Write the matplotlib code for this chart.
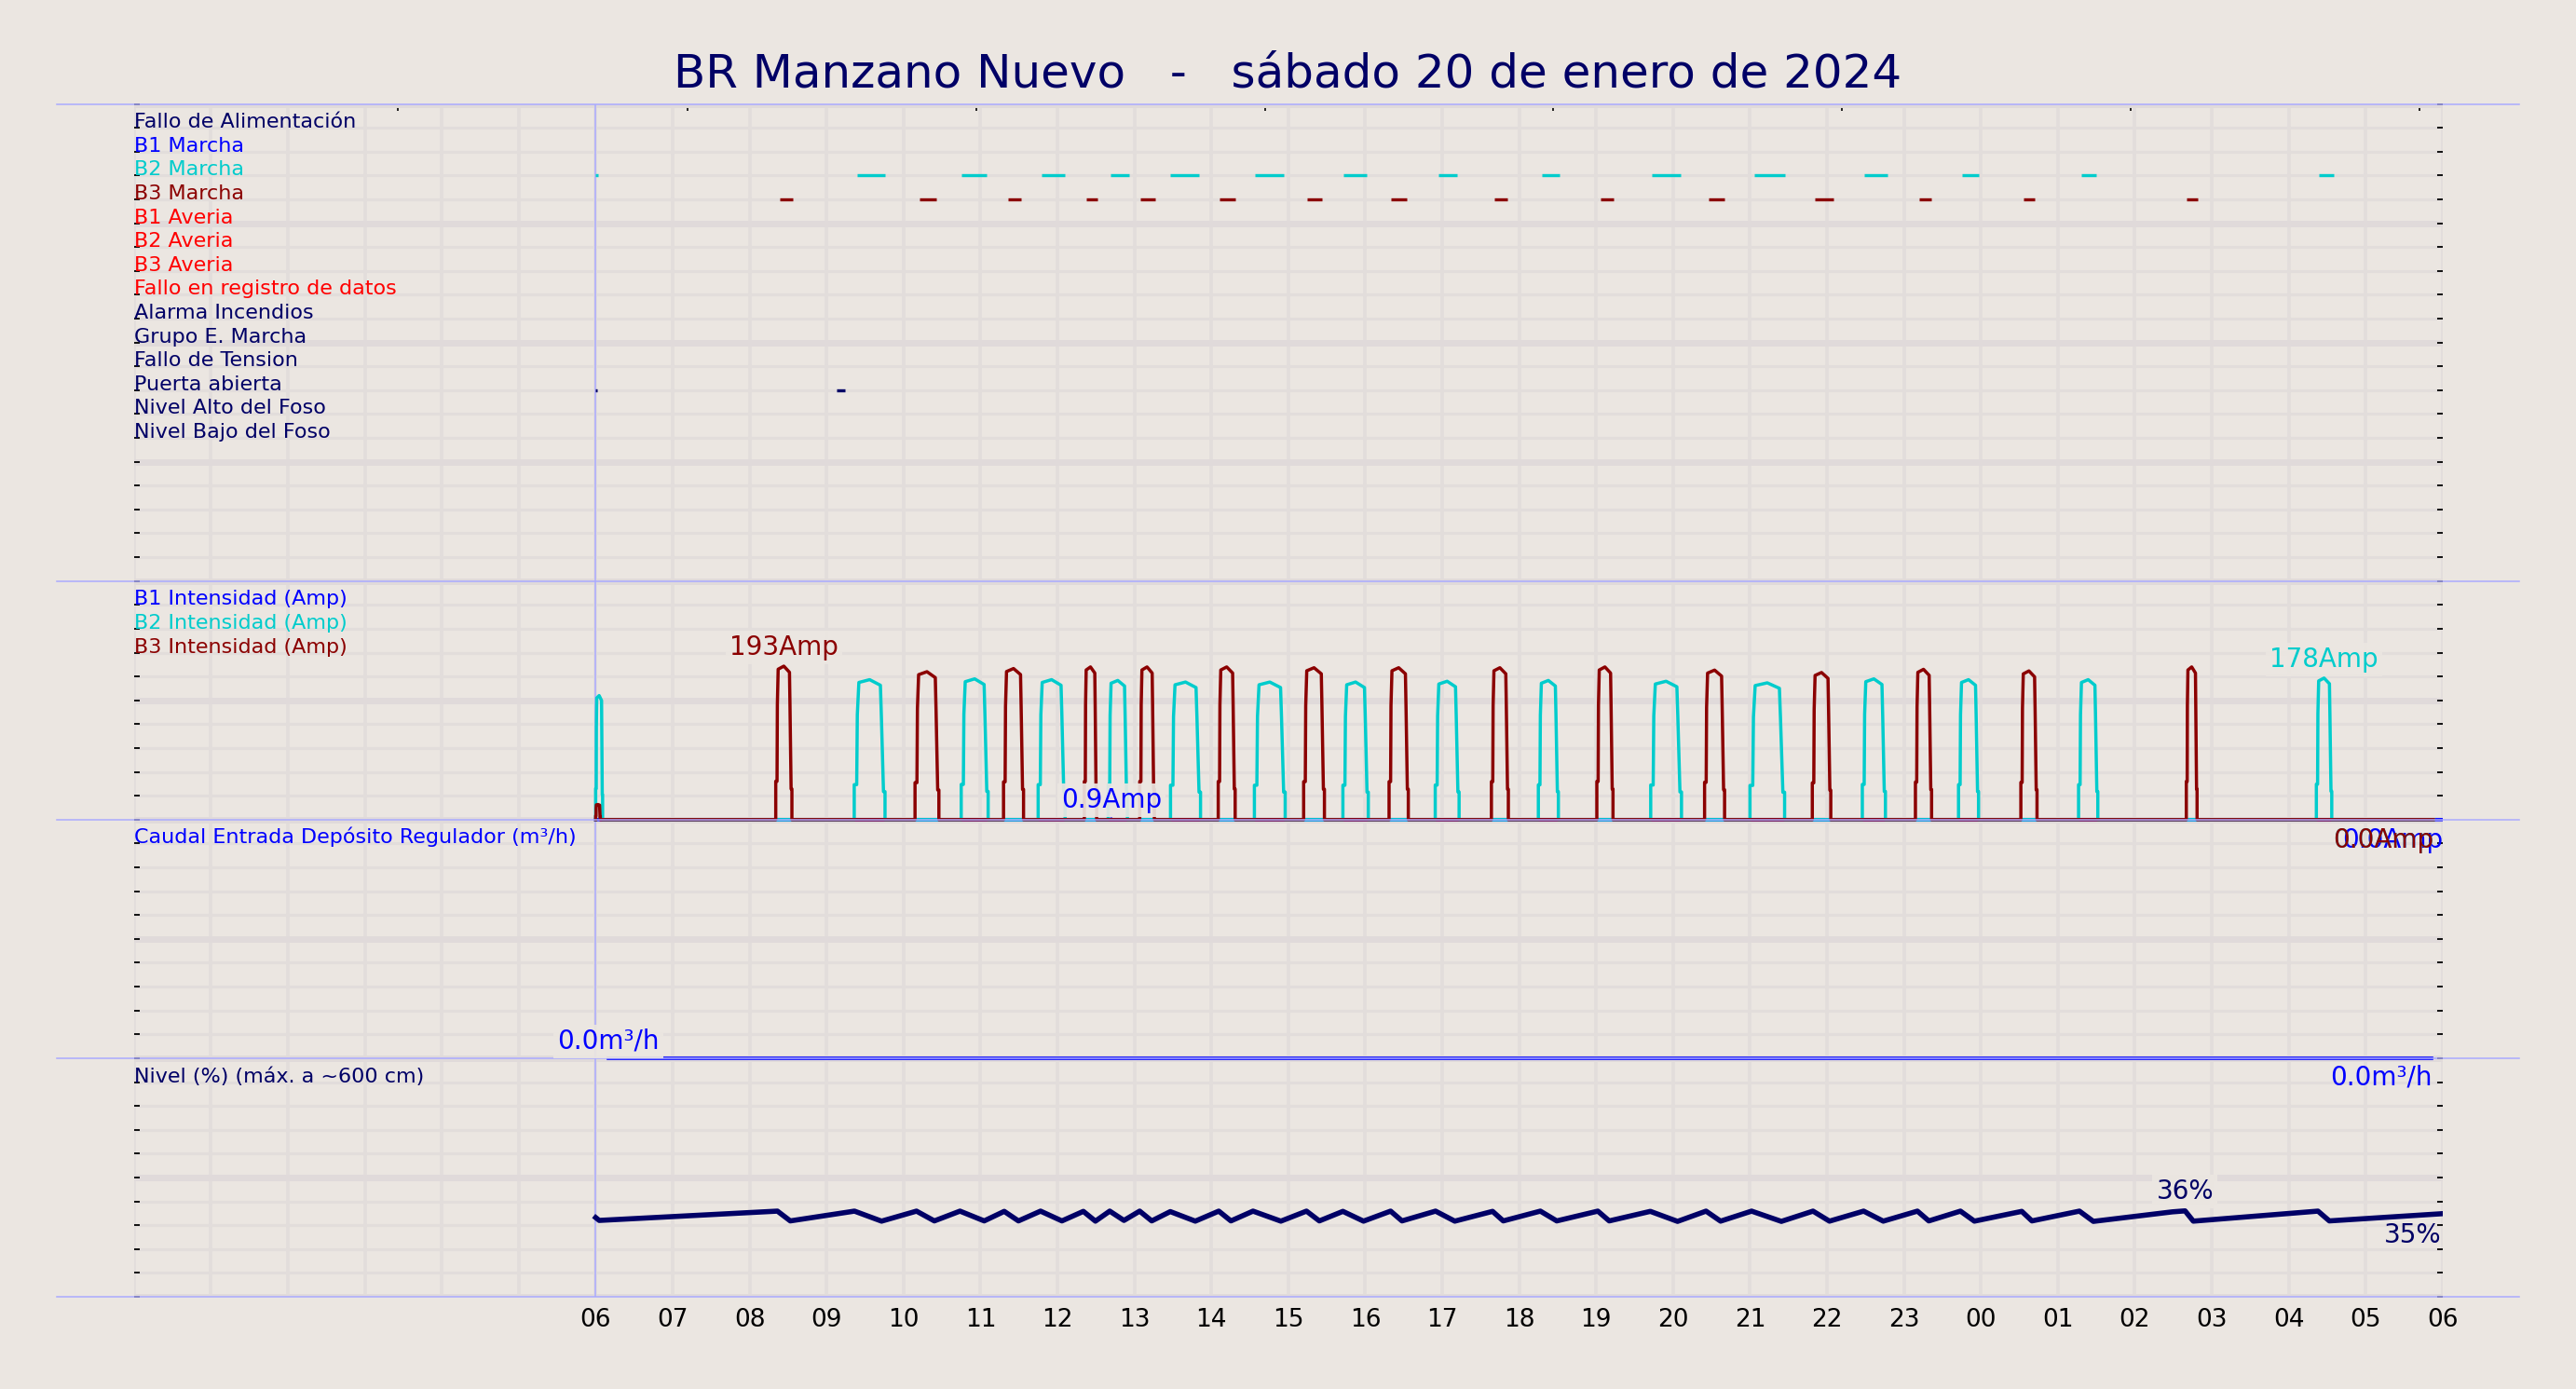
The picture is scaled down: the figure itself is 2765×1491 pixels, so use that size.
import numpy as np
import matplotlib.pyplot as plt

# x axis: hours counted from 00:00 of 20/01/2024 (00 -> 06 of the next day)
title = 'BR Manzano Nuevo   -   sábado 20 de enero de 2024'
hour_labels = ['06', '07', '08', '09', '10', '11', '12', '13', '14', '15', '16', '17',
               '18', '19', '20', '21', '22', '23', '00', '01', '02', '03', '04', '05', '06']

signal_names = ['Fallo de Alimentación', 'B1 Marcha', 'B2 Marcha', 'B3 Marcha',
                'B1 Averia', 'B2 Averia', 'B3 Averia', 'Fallo en registro de datos',
                'Alarma Incendios', 'Grupo E. Marcha', 'Fallo de Tension',
                'Puerta abierta', 'Nivel Alto del Foso', 'Nivel Bajo del Foso']

# digital signals: start / end of each active period (hours)
b2_run_on = [6.00, 9.40, 10.75, 11.79, 12.69, 13.47, 14.57, 15.72, 16.95, 18.30, 19.73,
             21.06, 22.49, 23.75, 25.30, 28.39]
b2_run_off = [6.03, 9.76, 11.08, 12.10, 12.93, 13.84, 14.94, 16.02, 17.20, 18.53, 20.10,
              21.45, 22.79, 23.97, 25.50, 28.59]
b3_run_on = [8.39, 10.21, 11.36, 12.37, 13.08, 14.11, 15.25, 16.34, 17.68, 19.06, 20.46,
             21.84, 23.20, 24.56, 26.67]
b3_run_off = [8.56, 10.43, 11.53, 12.52, 13.27, 14.31, 15.44, 16.54, 17.85, 19.23, 20.67,
              22.09, 23.36, 24.70, 26.82]
door_on = [6.00, 9.13]
door_off = [6.02, 9.24]

# pump currents (Amp): one pulse per run
b1_amp_t = [6.00, 12.69, 12.70, 12.71, 30.00]
b1_amp_v = [0.0, 0.0, 0.9, 0.0, 0.0]
b2_amp_start = [6.00, 9.36, 10.75, 11.75, 12.66, 13.47, 14.56, 15.71, 16.91, 18.25, 19.71,
                21.00, 22.46, 23.71, 25.27, 28.36]
b2_amp_end = [6.09, 9.76, 11.10, 12.10, 12.91, 13.86, 14.96, 16.04, 17.22, 18.51, 20.11,
              21.45, 22.76, 23.97, 25.52, 28.56]
b2_amp_peak = [156, 176, 177, 176, 175, 173, 173, 173, 174, 175, 174, 172, 177, 176, 176, 178]
b3_amp_start = [6.00, 8.34, 10.15, 11.30, 12.35, 13.07, 14.09, 15.20, 16.31, 17.64, 19.01,
                20.41, 21.81, 23.15, 24.52, 26.67]
b3_amp_end = [6.06, 8.55, 10.46, 11.56, 12.51, 13.26, 14.31, 15.47, 16.56, 17.86, 19.22,
              20.67, 22.05, 23.36, 24.73, 26.81]
b3_amp_peak = [19, 193, 186, 190, 192, 192, 192, 191, 191, 191, 192, 188, 185, 189, 187, 192]
amp_end_time = 29.88

# inflow (m3/h)
flow_t = [6.16, 29.86]
flow_v = [0.0, 0.0]

# pit level (%)
level_t = [6.000, 6.046, 8.362, 8.529, 9.363, 9.715, 10.169, 10.401, 10.734, 11.049, 11.309,
           11.494, 11.781, 12.059, 12.337, 12.494, 12.680, 12.865, 13.069, 13.226, 13.467,
           13.792, 14.097, 14.255, 14.542, 14.904, 15.237, 15.404, 15.710, 15.978, 16.330,
           16.478, 16.914, 17.164, 17.655, 17.794, 18.276, 18.489, 19.023, 19.171, 19.705,
           20.059, 20.429, 20.618, 21.021, 21.408, 21.819, 22.033, 22.477, 22.732, 23.176,
           23.324, 23.735, 23.916, 24.532, 24.664, 25.281, 25.462, 26.490, 26.654, 26.761,
           28.381, 28.529, 29.984]
level_v = [33.2, 32.0, 35.9, 31.8, 35.9, 31.7, 35.9, 31.8, 35.9, 31.8, 35.8,
           31.8, 35.9, 31.8, 35.8, 31.7, 35.9, 32.0, 35.9, 31.8, 35.7,
           31.7, 35.9, 31.8, 35.9, 31.7, 35.9, 31.8, 35.8, 31.7, 35.9,
           31.8, 35.9, 31.7, 35.8, 31.8, 35.9, 31.8, 35.9, 31.8, 35.8,
           31.6, 35.9, 31.7, 35.9, 31.6, 35.9, 31.7, 35.9, 31.7, 35.9,
           31.8, 35.9, 31.7, 35.8, 31.8, 35.9, 31.6, 35.6, 36.0, 31.7,
           35.9, 31.8, 34.8]

# ---- styles ----
bg = '#ebe6e1'
navy = '#000066'
blue = '#0000ff'
cyan = '#00cccc'
dred = '#8b0000'
red = '#ff0000'
edge_blue = '#aaaaff'
signal_colors = [navy, blue, cyan, dred, red, red, red, red,
                 navy, navy, navy, navy, navy, navy]

# pulse outline (fraction of run length, fraction of peak)
shape_t = [0.0, 0.0, 0.08, 0.10, 0.15, 0.5, 0.85, 0.88, 0.95, 1.0, 1.0]
shape_v = [0.0, 0.25, 0.25, 0.75, 0.98, 1.0, 0.96, 0.75, 0.2, 0.2, 0.0]


def pulse_series(starts, ends, peaks, t_first, t_last):
    t, v = [t_first], [0.0]
    for s, e, p in zip(starts, ends, peaks):
        t += [s + f * (e - s) for f in shape_t]
        v += [p * f for f in shape_v]
    t.append(t_last)
    v.append(0.0)
    return np.array(t), np.array(v)


def fmt(x):
    return f'{x:.0f}' if abs(x) >= 10 else f'{x:.1f}'


plt.rcParams['font.family'] = 'DejaVu Sans'
fig = plt.figure(figsize=(27.65, 14.91), dpi=100, facecolor=bg)
ax = fig.add_axes([0.052, 0.0664, 0.8962, 0.8588], facecolor=bg)
ax.set_xlim(0, 30)
ax.set_ylim(0, 50)
for s in ax.spines.values():
    s.set_visible(False)

# grid: hourly verticals, every unit horizontally, thicker every 5
ax.set_xticks(range(0, 31))
ax.set_xticklabels([''] * 6 + hour_labels, fontsize=19)
ax.set_yticks(range(0, 51, 5))
ax.set_yticks(range(0, 51), minor=True)
ax.set_yticklabels([])
ax.tick_params(axis='x', length=0, pad=9)
ax.tick_params(axis='y', which='both', direction='in', length=4, width=1.3,
               left=True, right=True, labelleft=False)
ax.set_axisbelow(True)
ax.grid(axis='x', color='#e2dddb', lw=2.6)
ax.grid(axis='y', which='minor', color='#e2dddb', lw=2.2)
ax.grid(axis='y', which='major', color='#e0dada', lw=5)

top = ax.secondary_xaxis('top')
top.set_xticks([3.43, 7.19, 10.95, 14.70, 18.44, 22.20, 25.95, 29.70])
top.tick_params(direction='in', length=5, width=1.2, labeltop=False)
top.spines['top'].set_visible(False)

# panel separators and start marker
for yb in [0, 10, 20, 30, 50]:
    ax.plot([-1, 31], [yb, yb], color=edge_blue, lw=1.1, clip_on=False, zorder=2.5)
ax.plot([6, 6], [0, 50], color=edge_blue, lw=1.1, zorder=1.5)

# ---- digital signals (levels 49 .. 36) ----
for i, (name, col) in enumerate(zip(signal_names, signal_colors)):
    ax.text(0.0, 49 - i, name, color=col, fontsize=16, ha='left', va='baseline')
for on, off, row, col in [(b2_run_on, b2_run_off, 47, cyan),
                          (b3_run_on, b3_run_off, 46, dred),
                          (door_on, door_off, 38, navy)]:
    for a, b in zip(on, off):
        ax.plot([a, b], [row, row], color=col, lw=2.4, solid_capstyle='butt', zorder=2)

# ---- currents (20 .. 30, 30 Amp per unit) ----
b2_t, b2_v = pulse_series(b2_amp_start, b2_amp_end, b2_amp_peak, 6.0, amp_end_time)
b3_t, b3_v = pulse_series(b3_amp_start, b3_amp_end, b3_amp_peak, 6.0, amp_end_time)
b1_t, b1_v = np.array(b1_amp_t), np.array(b1_amp_v)
amp_series = [(b1_t, b1_v, blue), (b2_t, b2_v, cyan), (b3_t, b3_v, dred)]
for t, v, col in amp_series:
    ax.plot(t, 20 + v / 30.0, color=col, lw=2.5, zorder=2)
ax.text(0.0, 29, 'B1 Intensidad (Amp)', color=blue, fontsize=16, va='baseline')
ax.text(0.0, 28, 'B2 Intensidad (Amp)', color=cyan, fontsize=16, va='baseline')
ax.text(0.0, 27, 'B3 Intensidad (Amp)', color=dred, fontsize=16, va='baseline')

box = dict(boxstyle='square,pad=0.15', fc=bg, ec='none', alpha=0.92)
for t, v, col in amp_series:
    i = int(np.argmax(v))
    ax.annotate(fmt(v[i]) + 'Amp', (t[i], 20 + v[i] / 30.0), xytext=(0, 6),
                textcoords='offset pixels', ha='center', va='bottom', color=col,
                fontsize=20, bbox=box, zorder=4)
for t, v, col in amp_series:
    ax.annotate(fmt(v[-1]) + 'Amp', (t[-1], 20 + v[-1] / 30.0), xytext=(0, -8),
                textcoords='offset pixels', ha='right', va='top', color=col,
                fontsize=20, zorder=4)

# ---- inflow (10 .. 20) ----
ax.plot(flow_t, 10 + np.array(flow_v), color=blue, lw=2.6, zorder=2)
ax.text(0.0, 19, 'Caudal Entrada Depósito Regulador (m³/h)', color=blue,
        fontsize=16, va='baseline')
i = int(np.argmax(flow_v))
ax.annotate(fmt(flow_v[i]) + 'm³/h', (flow_t[i], 10 + flow_v[i]), xytext=(0, 4),
            textcoords='offset pixels', ha='center', va='bottom', color=blue,
            fontsize=20, bbox=box, zorder=4)
ax.annotate(fmt(flow_v[-1]) + 'm³/h', (flow_t[-1], 10 + flow_v[-1]), xytext=(0, -7),
            textcoords='offset pixels', ha='right', va='top', color=blue,
            fontsize=20, zorder=4)

# ---- level (0 .. 10, 10 % per unit) ----
lv = np.array(level_v)
ax.plot(level_t, lv / 10.0, color=navy, lw=4, zorder=2)
ax.text(0.0, 9, 'Nivel (%) (máx. a ~600 cm)', color=navy, fontsize=16, va='baseline')
i = int(np.argmax(lv))
ax.annotate(f'{lv[i]:.0f}%', (level_t[i], lv[i] / 10.0), xytext=(0, 7),
            textcoords='offset pixels', ha='center', va='bottom', color=navy,
            fontsize=20, bbox=box, zorder=4)
ax.annotate(f'{lv[-1]:.0f}%', (level_t[-1], lv[-1] / 10.0), xytext=(0, -9),
            textcoords='offset pixels', ha='right', va='top', color=navy,
            fontsize=20, zorder=4)

fig.text(0.5, 1 - 79 / 1491, title, ha='center', va='center', fontsize=36, color=navy)

fig.savefig('out.png', dpi=100, facecolor=bg)
